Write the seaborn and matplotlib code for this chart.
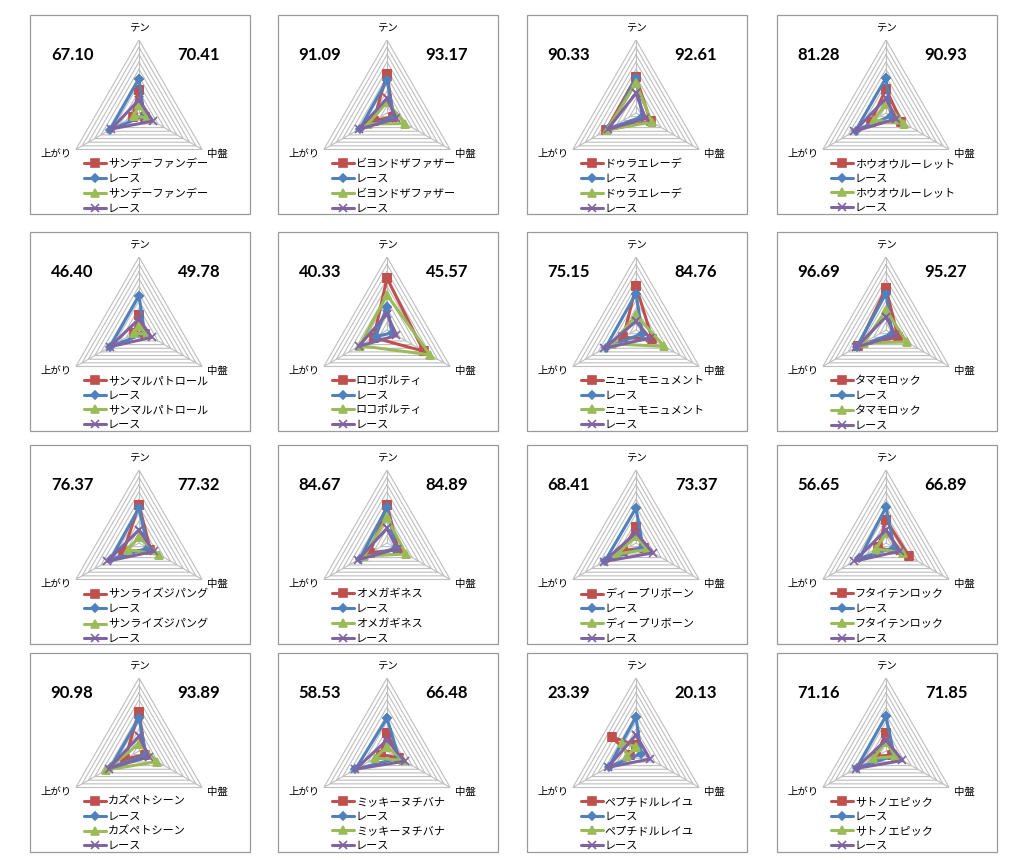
import numpy as np
import matplotlib
matplotlib.use("Agg")
import matplotlib.pyplot as plt
import seaborn as sns
from matplotlib.path import Path
from matplotlib.patches import Rectangle
from matplotlib.projections.polar import PolarAxes
from matplotlib.projections import register_projection

# ---------------- data ----------------
horse_names = ["サンデーファンデー", "ビヨンドザファザー", "ドゥラエレーデ", "ホウオウルーレット",
               "サンマルパトロール", "ロコポルティ", "ニューモニュメント", "タマモロック",
               "サンライズジパング", "オメガギネス", "ディープリボーン", "フタイテンロック",
               "カズペトシーン", "ミッキーヌチバナ", "ペプチドルレイユ", "サトノエピック"]
race_label = "レース"
axis_labels = ["テン", "中盤", "上がり"]
left_scores = [67.10, 91.09, 90.33, 81.28, 46.40, 40.33, 75.15, 96.69,
               76.37, 84.67, 68.41, 56.65, 90.98, 58.53, 23.39, 71.16]
right_scores = [70.41, 93.17, 92.61, 90.93, 49.78, 45.57, 84.76, 95.27,
                77.32, 84.89, 73.37, 66.89, 93.89, 66.48, 20.13, 71.85]

# values per panel: [テン, 中盤, 上がり]
horse_a = [[3.2, 1.0, 1.0], [5.4, 1.0, 2.1], [4.9, 2.3, 4.7], [3.3, 2.4, 2.4],
           [2.0, 1.0, 0.8], [7.1, 5.8, 2.1], [6.0, 2.6, 2.0], [5.7, 1.9, 4.4],
           [5.2, 1.8, 2.5], [5.2, 1.8, 2.7], [2.2, 1.3, 2.1], [3.2, 3.6, 1.2],
           [5.4, 1.0, 2.2], [2.5, 1.9, 1.0], [0.8, -3.8, 1.0], [2.5, 1.0, 1.6]]
race_a = [[4.7, 0.8, 4.6], [4.5, 1.1, 4.3], [4.8, 1.0, 4.2], [4.8, 0.8, 4.8],
          [4.7, 0.9, 4.6], [3.2, 0.8, 1.8], [5.0, 1.0, 4.8], [5.0, 1.0, 4.6],
          [4.8, 1.4, 4.5], [4.9, 1.4, 4.3], [4.8, 1.1, 4.9], [4.9, 1.3, 4.2],
          [4.5, 1.1, 4.5], [4.5, 1.9, 5.0], [4.7, 0.8, 4.3], [4.8, 1.3, 4.6]]
horse_b = [[1.1, 1.3, 0.8], [1.5, 2.9, 3.0], [4.1, 2.5, 4.6], [1.2, 2.9, 1.9],
           [0.6, 1.2, 0.8], [4.8, 6.8, 4.3], [2.0, 4.5, 3.8], [2.7, 3.3, 3.5],
           [0.8, 3.2, 1.8], [3.5, 3.0, 3.6], [0.9, 1.8, 3.0], [1.4, 2.7, 1.6],
           [1.0, 2.9, 5.2], [0.6, 2.6, 1.9], [0.6, -2.2, 1.4], [1.3, 1.5, 2.0]]
race_b = [[1.8, 2.2, 4.4], [2.0, 1.5, 4.5], [2.7, 1.5, 4.5], [2.0, 1.6, 5.0],
          [1.5, 2.0, 4.6], [2.2, 1.5, 4.5], [1.2, 2.2, 5.0], [1.8, 1.5, 4.7],
          [1.8, 2.3, 5.0], [2.0, 1.6, 4.6], [1.4, 2.7, 5.1], [1.8, 2.2, 5.0],
          [2.0, 1.6, 4.8], [1.5, 2.8, 5.0], [2.2, 2.2, 4.5], [1.5, 2.6, 4.8]]

series_colors = ["#C0504D", "#4F81BD", "#9BBB59", "#8064A2"]
series_markers = ["s", "D", "^", "x"]
series_msize = [5.5, 4, 6, 6]

# ---------------- radar projection (straight triangular grid) ----------------
NV = 3


class RadarTransform(PolarAxes.PolarTransform):
    def transform_path_non_affine(self, path):
        if path._interpolation_steps > 1:
            path = path.interpolated(NV)
        return Path(self.transform(path.vertices), path.codes)


class RadarAxes(PolarAxes):
    name = "radar3"
    PolarTransform = RadarTransform


register_projection(RadarAxes)

sns.set_style("white")
plt.rcParams["font.family"] = ["Noto Sans CJK JP", "DejaVu Sans"]
plt.rcParams["text.color"] = "black"

W, H = 1024, 866
fig = plt.figure(figsize=(W / 100, H / 100), dpi=100)
fig.patch.set_facecolor("white")

col_left = [30, 278, 527, 777]
row_top = [15, 232, 445, 653]
box_w, box_h = 220, 199
R = 73


def fx(x):
    return x / W


def fy(y):
    return 1 - y / H


angles = np.deg2rad([0.0, 120.0, 240.0])


def to_polar(vals):
    r = np.asarray(vals, float)
    th = np.where(r < 0, angles + np.pi, angles)
    r = np.abs(r)
    return np.append(th, th[0] + 2 * np.pi), np.append(r, r[0])


for i in range(16):
    row, col = divmod(i, 4)
    L, T = col_left[col], row_top[row]
    fig.add_artist(Rectangle((fx(L), fy(T + box_h)), box_w / W, box_h / H,
                             transform=fig.transFigure, fill=False,
                             edgecolor="#9A9A9A", linewidth=0.9))
    cx, cy = L + 109, T + 98
    ax = fig.add_axes([fx(cx - R), fy(cy + R), 2 * R / W, 2 * R / H],
                      projection="radar3")
    ax.set_theta_zero_location("N")
    ax.set_theta_direction(-1)
    ax.patch.set_visible(False)
    ax.spines["polar"].set_visible(False)

    data_sets = [horse_a[i], race_a[i], horse_b[i], race_b[i]]
    labels = [horse_names[i], race_label, horse_names[i], race_label]
    for k in range(4):
        th, rr = to_polar(data_sets[k])
        sns.lineplot(x=th, y=rr, ax=ax, sort=False, estimator=None,
                     color=series_colors[k], marker=series_markers[k],
                     markersize=series_msize[k], markeredgecolor=series_colors[k],
                     markeredgewidth=1.2, linewidth=2.2, label=labels[k],
                     zorder=3 + k)

    ax.set_ylim(0, 10)
    ax.set_yticks(np.arange(1, 11))
    ax.set_yticklabels([""] * 10)
    ax.set_xticks(angles)
    ax.set_xticklabels(["", "", ""])
    ax.set_xlabel("")
    ax.set_ylabel("")
    ax.grid(True, color="#BEBEBE", linewidth=0.8)

    # axis labels
    fig.text(fx(cx), fy(cy - 84.5), axis_labels[0], ha="center", va="center", fontsize=7.5)
    fig.text(fx(cx + 78), fy(cy + 41), axis_labels[1], ha="center", va="center", fontsize=7.5)
    fig.text(fx(cx - 83), fy(cy + 41), axis_labels[2], ha="center", va="center", fontsize=7.5)

    # scores
    fig.text(fx(cx - 67), fy(cy - 58), f"{left_scores[i]:.2f}", ha="center", va="center",
             fontsize=12, fontweight="bold", family="Lato")
    fig.text(fx(cx + 60), fy(cy - 58), f"{right_scores[i]:.2f}", ha="center", va="center",
             fontsize=12, fontweight="bold", family="Lato")

    ax.legend(loc="upper left", bbox_to_anchor=(fx(cx - 55), fy(cy + 46)),
              bbox_transform=fig.transFigure, frameon=False, fontsize=8,
              handlelength=2.0, handletextpad=0.15, labelspacing=0.42,
              borderpad=0, borderaxespad=0)

fig.savefig("out.png", dpi=100, facecolor="white")
